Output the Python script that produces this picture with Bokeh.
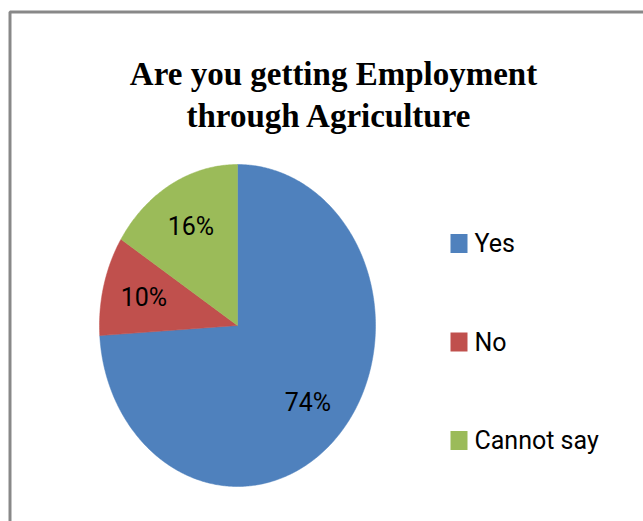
import numpy as np
from bokeh.plotting import figure
from bokeh.models import Range1d, BoxAnnotation
from bokeh.core.properties import value
from bokeh.embed import file_html
from bokeh.resources import INLINE

# ---- data ----
title_lines = ["Are you getting Employment", "through  Agriculture"]
categories = ["Yes", "No", "Cannot say"]
values = [74, 10, 16]
colors = ["#4F81BD", "#C0504D", "#9BBB59"]

W, H = 643, 521
p = figure(width=W, height=H, output_backend="svg", toolbar_location=None,
           x_range=Range1d(0, W), y_range=Range1d(H, 0), min_border=0,
           outline_line_color=None, background_fill_color="white",
           border_fill_color="white")
p.axis.visible = False
p.grid.visible = False

# frame
p.add_layout(BoxAnnotation(left=9.5, top=11.5, right=W + 20, bottom=H + 20,
                           fill_alpha=0, line_color="#888888", line_alpha=1.0,
                           line_width=3))

# title
for i, t in enumerate(title_lines):
    p.text(x=[333], y=[73 + i * 42], text=[t], text_align="center",
           text_baseline="alphabetic", text_font=value("Liberation Serif"),
           text_font_style="bold", text_font_size="33px", text_color="#000000")

# pie (elliptical, clockwise from 12 o'clock)
cx, cy, rx, ry = 237, 325, 138, 161
total = float(sum(values))
fr = np.cumsum([0] + values) / total * 2 * np.pi
xs, ys, lx, ly, labels = [], [], [], [], []
for i, v in enumerate(values):
    a0, a1 = fr[i], fr[i + 1]
    th = np.linspace(a0, a1, max(int((a1 - a0) / 0.01), 4))
    xs.append([cx] + list(cx + rx * np.sin(th)))
    ys.append([cy] + list(cy - ry * np.cos(th)))
    am = (a0 + a1) / 2
    lx.append(cx + 0.7 * rx * np.sin(am))
    ly.append(cy - 0.7 * ry * np.cos(am))
    labels.append(f"{round(v / total * 100)}%")

p.patches(xs=xs, ys=ys, fill_color=colors, line_color=colors, line_width=0.5)
p.text(x=lx, y=ly, text=labels, text_align="center", text_baseline="middle",
       text_font=value("Roboto"), text_font_size="25px", text_color="#000000")

# legend
leg_y = [243 + i * 98.5 for i in range(len(categories))]
p.rect(x=[458.5] * len(categories), y=leg_y, width=17, height=19,
       fill_color=colors, line_color=None)
p.text(x=[474] * len(categories), y=leg_y, text=categories, text_align="left",
       text_baseline="middle", text_font=value("Roboto"), text_font_size="25px",
       text_color="#000000")

open("out.html", "w").write(file_html(p, INLINE))
